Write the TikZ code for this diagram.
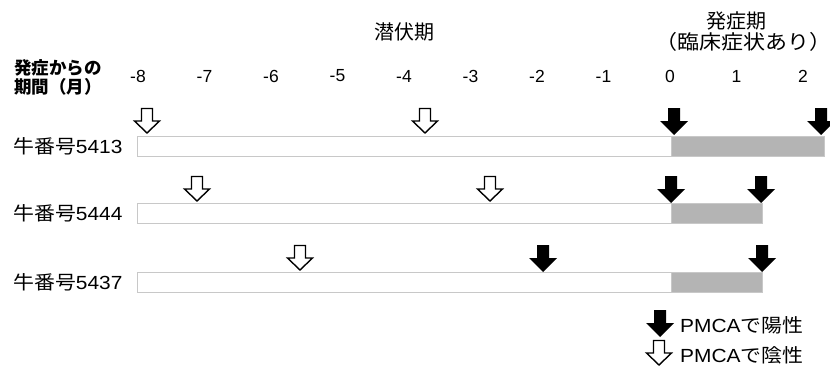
\documentclass[tikz,border=0pt]{standalone}
\usepackage{fontspec}
\setmainfont{Liberation Sans}
\newfontfamily\jp{Noto Sans CJK JP}
\definecolor{barline}{RGB}{200,200,200}
\definecolor{barfill}{RGB}{180,180,180}
\newcommand\hs[1]{\scalebox{1.1}[1]{#1}}
\begin{document}
\begin{tikzpicture}[x=1pt,y=-1pt,
  num/.style={inner sep=0pt, font=\fontsize{17.5}{19}\selectfont},
  ttl/.style={inner sep=0pt, font=\jp\fontsize{20}{22}\selectfont},
  rowlbl/.style={inner sep=0pt, anchor=west, font=\fontsize{19}{21}\selectfont},
  leglbl/.style={inner sep=0pt, anchor=west, font=\fontsize{19}{21}\selectfont},
  bar/.style={draw=barline, line width=0.9pt, fill=white},
  graybar/.style={draw=barline, line width=0.9pt, fill=barfill},
  posarr/.pic={\fill[black] (-6,-27) -- (6,-27) -- (6,-14) -- (14,-14) -- (0,0) -- (-14,-14) -- (-6,-14) -- cycle;},
  negarr/.pic={\draw[black, fill=white, line width=1.4pt, line join=miter] (-5.5,-25.5) -- (5.5,-25.5) -- (5.5,-13) -- (12.5,-13) -- (0,-1) -- (-12.5,-13) -- (-5.5,-13) -- cycle;}
]
\useasboundingbox (0,0) rectangle (830,370);

% titles
\node[ttl] (latent) at (404,32) {潜伏期};
\node[ttl] (onset) at (736,21) {発症期};
\node[ttl] (clin) at (743,42) {\hs{（臨床症状あり）}};

% axis label
\node[inner sep=0pt, align=center, font=\jp\bfseries\fontsize{17.5}{19}\selectfont] (axlbl) at (58,77) {発症からの\\期間（月）};

% axis numbers
\foreach \m in {-8,...,2} {
  \node[num] (t\m) at ({670+66.5*\m},76) {\m};
}

% bars
\draw[bar] (137,136) rectangle (671,156);
\draw[graybar] (671,136) rectangle (824,156);
\draw[bar] (137,203) rectangle (671,223);
\draw[graybar] (671,203) rectangle (762,223);
\draw[bar] (137,272) rectangle (671,292);
\draw[graybar] (671,272) rectangle (762,292);

% row labels
\node[rowlbl] (r1) at (13,146) {\hs{{\jp 牛番号}5413}};
\node[rowlbl] (r2) at (13,213) {\hs{{\jp 牛番号}5444}};
\node[rowlbl] (r3) at (13,282) {\hs{{\jp 牛番号}5437}};

% arrows row 1
\pic at (147,134) {negarr};
\pic at (425,134) {negarr};
\pic at (674,135) {posarr};
\pic at (821,135) {posarr};
% row 2
\pic at (197,202) {negarr};
\pic at (490,202) {negarr};
\pic at (671,203) {posarr};
\pic at (761,203) {posarr};
% row 3
\pic at (300,271) {negarr};
\pic at (543,272) {posarr};
\pic at (762,272) {posarr};

% legend
\pic at (660,337) {posarr};
\pic at (659,366) {negarr};
\node[leglbl] (lp) at (680,325) {\hs{PMCA{\jp で陽性}}};
\node[leglbl] (ln) at (680,355) {\hs{PMCA{\jp で陰性}}};
\end{tikzpicture}
\end{document}
